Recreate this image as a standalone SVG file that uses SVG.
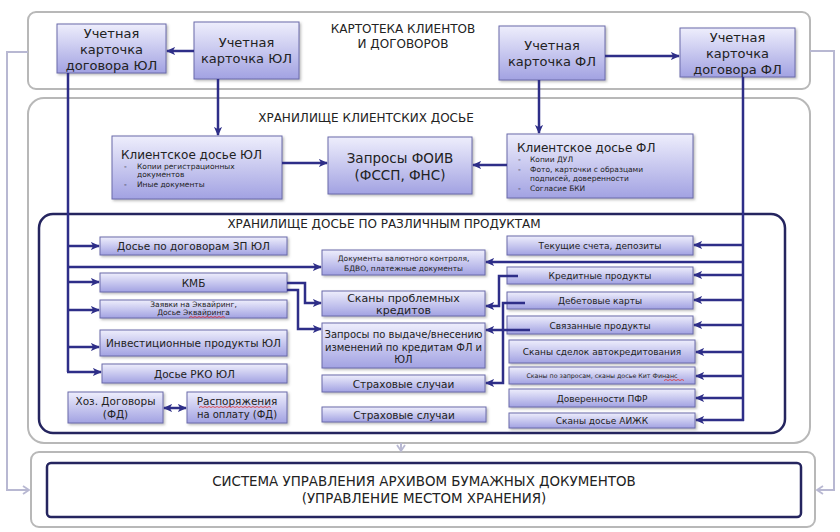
<svg xmlns="http://www.w3.org/2000/svg" width="840" height="532" viewBox="0 0 840 532">
<defs>
<linearGradient id="g" x1="0" y1="0" x2="0" y2="1">
<stop offset="0" stop-color="#eeeefc"/>
<stop offset="1" stop-color="#a2a2e2"/>
</linearGradient>
<filter id="sh" x="-10%" y="-10%" width="130%" height="150%">
<feDropShadow dx="1.5" dy="1.5" stdDeviation="1" flood-color="#555" flood-opacity="0.4"/>
</filter>
<marker id="a" viewBox="0 0 10 10" refX="9" refY="5" markerWidth="9" markerHeight="9" markerUnits="userSpaceOnUse" orient="auto-start-reverse">
<path d="M0,0.5 L10,5 L0,9.5 L2.5,5 z" fill="#2e2e88"/>
</marker>
<marker id="ga" viewBox="0 0 10 10" refX="8" refY="5" markerWidth="10" markerHeight="10" markerUnits="userSpaceOnUse" orient="auto">
<path d="M2,1 L8,5 L2,9" fill="none" stroke="#b8b8d2" stroke-width="1.8"/>
</marker>
</defs>
<style>
.gbox{fill:#fff;stroke:#b8b8b8;stroke-width:2}
.nbox{fill:#fff;stroke:#25255f;stroke-width:2.5}
.n rect{fill:url(#g);stroke:#6a6aaa;stroke-width:1;filter:url(#sh)}
text{font-family:"DejaVu Sans","Liberation Sans",sans-serif;fill:#222}
.m{text-anchor:middle}
.f13{font-size:13px}
.f12{font-size:12px}
.f10{font-size:10.5px}
.f9{font-size:9px}
.f7{font-size:7.5px}
.f6{font-size:6.3px}
.c{fill:none;stroke:#2e2e88;stroke-width:2.5}
.ca{fill:none;stroke:#2e2e88;stroke-width:2.5;marker-end:url(#a)}
.gc{fill:none;stroke:#b8b8d2;stroke-width:2}
.sq{fill:none;stroke:#e03030;stroke-width:0.8}
</style>

<g id="containers">
<rect class="gbox" x="28" y="12" width="782" height="77" rx="8"/>
<text class="m f12" x="403" y="33">КАРТОТЕКА КЛИЕНТОВ</text>
<text class="m f12" x="403" y="48">И ДОГОВОРОВ</text>
<rect class="gbox" x="28" y="98" width="782" height="345" rx="16"/>
<text class="m f12" x="366" y="122">ХРАНИЛИЩЕ КЛИЕНТСКИХ ДОСЬЕ</text>
<rect class="nbox" x="39" y="214" width="746" height="219" rx="14"/>
<text class="m f12" x="384" y="228">ХРАНИЛИЩЕ ДОСЬЕ ПО РАЗЛИЧНЫМ ПРОДУКТАМ</text>
<rect class="gbox" x="31" y="452" width="784" height="75" rx="8"/>
</g>

<g id="system">
<rect class="nbox" x="47" y="463" width="754" height="54" rx="4"/>
<text class="m" style="font-size:13.4px" x="424" y="486">СИСТЕМА УПРАВЛЕНИЯ АРХИВОМ БУМАЖНЫХ ДОКУМЕНТОВ</text>
<text class="m" style="font-size:13.4px" x="424" y="503">(УПРАВЛЕНИЕ МЕСТОМ ХРАНЕНИЯ)</text>
</g>

<g id="n-dog-ul" class="n"><rect x="57" y="24" width="109" height="49"/>
<text class="m f13" x="111.5" y="38">Учетная</text><text class="m f13" x="111.5" y="54">карточка</text><text class="m f13" x="111.5" y="70">договора ЮЛ</text></g>
<g id="n-card-ul" class="n"><rect x="194" y="22" width="105" height="57"/>
<text class="m f13" x="246.5" y="47">Учетная</text><text class="m f13" x="246.5" y="63">карточка ЮЛ</text></g>
<g id="n-card-fl" class="n"><rect x="499" y="26" width="106" height="54"/>
<text class="m f13" x="552" y="50">Учетная</text><text class="m f13" x="552" y="66">карточка ФЛ</text></g>
<g id="n-dog-fl" class="n"><rect x="680" y="28" width="115" height="49"/>
<text class="m f13" x="737.5" y="42">Учетная</text><text class="m f13" x="737.5" y="58">карточка</text><text class="m f13" x="737.5" y="74">договора ФЛ</text></g>

<g id="n-dos-ul" class="n"><rect x="112" y="136" width="170" height="63"/>
<text class="f12" x="121" y="159">Клиентское досье ЮЛ</text>
<text class="f7" x="124" y="168.5">-</text><text class="f7" x="137" y="168.5">Копии регистрационных</text>
<text class="f7" x="137" y="177">документов</text>
<text class="f7" x="124" y="187">-</text><text class="f7" x="137" y="187">Иные документы</text></g>
<g id="n-foiv" class="n"><rect x="328" y="137" width="144" height="57"/>
<text class="m" style="font-size:13.5px" x="400" y="163">Запросы ФОИВ</text><text class="m" style="font-size:13.5px" x="400" y="180">(ФССП, ФНС)</text></g>
<g id="n-dos-fl" class="n"><rect x="507" y="134" width="186" height="64"/>
<text class="f12" x="517" y="152">Клиентское досье ФЛ</text>
<text class="f7" x="518" y="162">-</text><text class="f7" x="530" y="162">Копии ДУЛ</text>
<text class="f7" x="518" y="171.5">-</text><text class="f7" x="530" y="171.5">Фото, карточки с образцами</text>
<text class="f7" x="530" y="181">подписей, доверенности</text>
<text class="f7" x="518" y="190.5">-</text><text class="f7" x="530" y="190.5">Согласие БКИ</text></g>

<g id="n-zp" class="n"><rect x="100" y="237" width="187" height="18"/><text class="m f10" x="193.5" y="250">Досье по договорам ЗП ЮЛ</text></g>
<g id="n-kmb" class="n"><rect x="100" y="273" width="187" height="19"/><text class="m f10" x="193.5" y="286.5">КМБ</text></g>
<g id="n-ekv" class="n"><rect x="100" y="300" width="187" height="18"/><text class="m f7" x="193.5" y="307">Заявки на Эквайринг,</text><text class="m f7" x="193.5" y="315">Досье Эквайринга</text>
<path class="sq" d="M189,317.5 l2,-1 l2,1 l2,-1 l2,1 l2,-1 l2,1 l2,-1 l2,1 l2,-1 l2,1 l2,-1 l2,1 l2,-1 l2,1 l2,-1 l2,1 l2,-1 l2,1"/></g>
<g id="n-inv" class="n"><rect x="100" y="330" width="187" height="26"/><text class="m f10" x="193.5" y="347">Инвестиционные продукты ЮЛ</text></g>
<g id="n-rko" class="n"><rect x="102" y="364" width="185" height="19"/><text class="m f10" x="194.5" y="377.5">Досье РКО ЮЛ</text></g>
<g id="n-hoz" class="n"><rect x="68" y="392" width="95" height="31"/><text class="m f10" x="115.5" y="405">Хоз. Договоры</text><text class="m f10" x="115.5" y="418">(ФД)</text></g>
<g id="n-rasp" class="n"><rect x="187" y="392" width="100" height="31"/><text class="m f10" x="237" y="405">Распоряжения</text><text class="m" style="font-size:10px" x="237" y="418">на оплату (ФД)</text>
<path class="sq" d="M199,407.5 l2,-1 l2,1 l2,-1 l2,1 l2,-1 l2,1 l2,-1 l2,1 l2,-1 l2,1 l2,-1 l2,1 l2,-1 l2,1 l2,-1 l2,1 l2,-1 l2,1 l2,-1 l2,1 l2,-1 l2,1 l2,-1 l2,1 l2,-1 l2,1 l2,-1 l2,1 l2,-1 l2,1 l2,-1 l2,1 l2,-1 l2,1 l2,-1 l2,1"/></g>

<g id="n-val" class="n"><rect x="322" y="250" width="163" height="25"/><text class="m f7" x="403.5" y="261">Документы валютного контроля,</text><text class="m f7" x="403.5" y="271">БДВО, платежные документы</text></g>
<g id="n-probl" class="n"><rect x="322" y="291" width="163" height="25"/><text class="m" style="font-size:11px" x="403.5" y="301.5">Сканы проблемных</text><text class="m" style="font-size:11px" x="403.5" y="314">кредитов</text></g>
<g id="n-zapr" class="n"><rect x="322" y="323" width="163" height="45"/><text class="m" style="font-size:10px" x="403.5" y="338">Запросы по выдаче/внесению</text><text class="m" style="font-size:10px" x="403.5" y="351">изменений по кредитам ФЛ и</text><text class="m" style="font-size:10px" x="403.5" y="363">ЮЛ</text></g>
<g id="n-strah1" class="n"><rect x="322" y="375" width="163" height="17"/><text class="m f10" x="403.5" y="387.5">Страховые случаи</text></g>
<g id="n-strah2" class="n"><rect x="322" y="407" width="164" height="15"/><text class="m f10" x="404" y="418.5">Страховые случаи</text></g>

<g id="n-tek" class="n"><rect x="507" y="236" width="186" height="19"/><text class="m f9" x="600" y="249">Текущие счета, депозиты</text></g>
<g id="n-kred" class="n"><rect x="507" y="267" width="186" height="17"/><text class="m f9" x="600" y="279">Кредитные продукты</text></g>
<g id="n-deb" class="n"><rect x="507" y="292" width="186" height="17"/><text class="m f9" x="600" y="304">Дебетовые карты</text></g>
<g id="n-sv" class="n"><rect x="507" y="316" width="186" height="18"/><text class="m f9" x="600" y="328.5">Связанные продукты</text></g>
<g id="n-avto" class="n"><rect x="509" y="340" width="186" height="23"/><text class="m f9" x="602" y="355">Сканы сделок автокредитования</text></g>
<g id="n-kit" class="n"><rect x="509" y="367" width="186" height="17"/><text class="m f6" x="602" y="378">Сканы по запросам,  сканы досье Кит Финанс</text>
<path class="sq" d="M664,380.5 l2,-1 l2,1 l2,-1 l2,1 l2,-1 l2,1 l2,-1 l2,1 l2,-1 l2,1"/></g>
<g id="n-pfr" class="n"><rect x="509" y="389" width="186" height="18"/><text class="m f9" x="602" y="401.5">Доверенности ПФР</text></g>
<g id="n-aizk" class="n"><rect x="509" y="413" width="186" height="15"/><text class="m f9" x="602" y="424">Сканы досье АИЖК</text></g>

<g id="connectors">
<path class="gc" d="M28,52 H7 V490 H29" marker-end="url(#ga)"/>
<path class="gc" d="M810,51 H834 V490 H817" marker-end="url(#ga)"/>
<path class="gc" d="M401,443 V451" marker-end="url(#ga)"/>

<path class="ca" d="M194,51 H167"/>
<path class="ca" d="M218,79 V135"/>
<path class="ca" d="M605,56 H679"/>
<path class="ca" d="M539,80 V133"/>
<path class="ca" d="M282,163 H327"/>
<path class="ca" d="M507,165 H473"/>

<path class="c" d="M68,73 V372"/>
<path class="ca" d="M68,246 H99"/>
<path class="ca" d="M68,267 H321"/>
<path class="ca" d="M68,282 H99"/>
<path class="ca" d="M68,310 H99"/>
<path class="ca" d="M68,347 H99"/>
<path class="ca" d="M67,372 H101"/>
<path class="ca" d="M287,283 H305 V303 H321"/>
<path class="ca" d="M287,290 H298 V329 H321"/>
<path class="ca" d="M164,408 H186" marker-start="url(#a)"/>

<path class="c" d="M743,77 V421"/>
<path class="ca" d="M743,245 H694"/>
<path class="ca" d="M743,262 H486"/>
<path class="ca" d="M743,275 H694"/>
<path class="ca" d="M743,300 H694"/>
<path class="ca" d="M743,325 H694"/>
<path class="ca" d="M743,352 H696"/>
<path class="ca" d="M743,376 H696"/>
<path class="ca" d="M743,398 H696"/>
<path class="ca" d="M744,420 H696"/>
<path class="ca" d="M518,276 H499 V306 H486"/>
<path class="ca" d="M525,303 H503 V383 H486"/>
<path class="ca" d="M530,330 H486"/>
</g>
</svg>
